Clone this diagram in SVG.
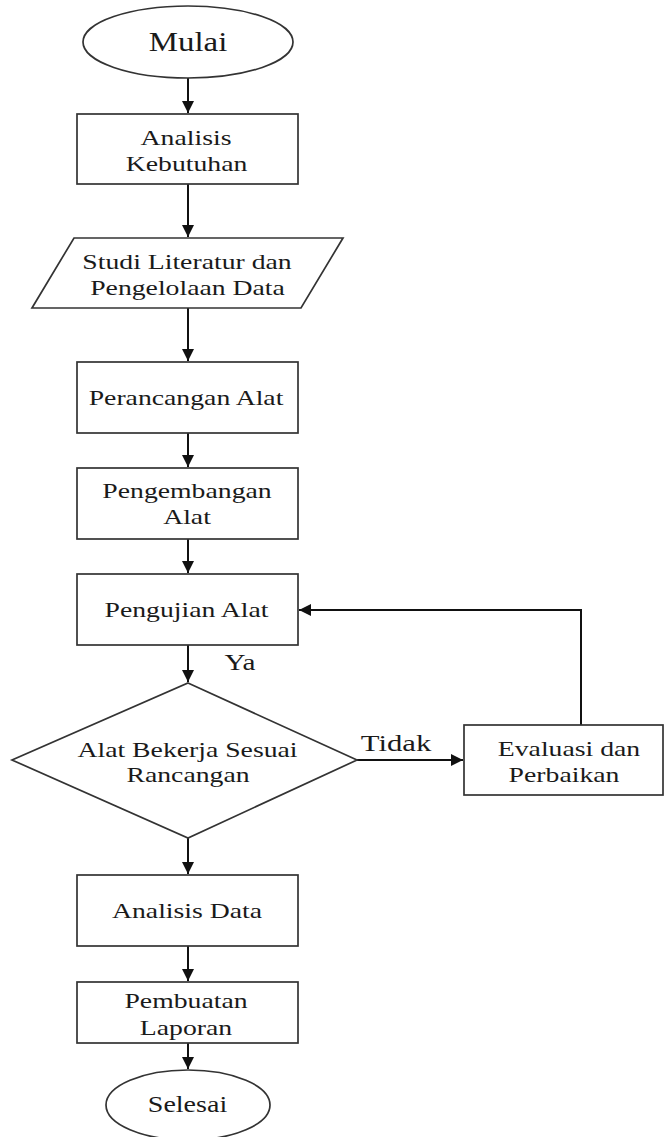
<svg xmlns="http://www.w3.org/2000/svg" width="664" height="1137" viewBox="0 0 664 1137">
<style>
.s{fill:#fff;stroke:#333;stroke-width:1.7}
.t{font-family:"Liberation Serif","Times New Roman",serif;font-size:22px;fill:#1a1a1a;text-anchor:middle}
.c{fill:none;stroke:#111;stroke-width:2}
</style>
<defs>
<marker id="a" markerUnits="userSpaceOnUse" markerWidth="13" markerHeight="12" refX="12" refY="6" orient="auto">
<path d="M0,0 L12,6 L0,12 z" fill="#111"/>
</marker>
</defs>
<rect width="664" height="1137" fill="#fff"/>
<g id="connectors">
<line class="c" x1="188" y1="78" x2="188" y2="113" marker-end="url(#a)"/>
<line class="c" x1="188" y1="184" x2="188" y2="237" marker-end="url(#a)"/>
<line class="c" x1="188" y1="308" x2="188" y2="361" marker-end="url(#a)"/>
<line class="c" x1="188" y1="433" x2="188" y2="467" marker-end="url(#a)"/>
<line class="c" x1="188" y1="539" x2="188" y2="573" marker-end="url(#a)"/>
<line class="c" x1="188" y1="645" x2="188" y2="682" marker-end="url(#a)"/>
<line class="c" x1="188" y1="838" x2="188" y2="874" marker-end="url(#a)"/>
<line class="c" x1="188" y1="946" x2="188" y2="981" marker-end="url(#a)"/>
<line class="c" x1="188" y1="1043" x2="188" y2="1069" marker-end="url(#a)"/>
<line class="c" x1="357" y1="760" x2="463" y2="760" marker-end="url(#a)"/>
<polyline class="c" points="581,725 581,610 299,610" marker-end="url(#a)"/>
<text class="t" transform="translate(240,670) scale(1.27,1)" style="font-size:23px">Ya</text>
<text class="t" transform="translate(396,751) scale(1.28,1)" style="font-size:24px">Tidak</text>
</g>
<g id="mulai">
<ellipse class="s" cx="188" cy="42" rx="105" ry="36"/>
<text class="t" transform="translate(188,51) scale(1.22,1)" style="font-size:27px">Mulai</text>
</g>
<g id="analisis-kebutuhan">
<rect class="s" x="77" y="114" width="221" height="70"/>
<text class="t" transform="translate(186,145) scale(1.26,1)">Analisis</text>
<text class="t" transform="translate(186.5,171) scale(1.26,1)">Kebutuhan</text>
</g>
<g id="studi-literatur">
<polygon class="s" points="74,238 343,238 301,308 32,308"/>
<text class="t" transform="translate(187,269) scale(1.26,1)">Studi Literatur dan</text>
<text class="t" transform="translate(187.5,295) scale(1.26,1)">Pengelolaan Data</text>
</g>
<g id="perancangan">
<rect class="s" x="77" y="362" width="221" height="71"/>
<text class="t" transform="translate(186,405) scale(1.26,1)">Perancangan Alat</text>
</g>
<g id="pengembangan">
<rect class="s" x="77" y="468" width="221" height="71"/>
<text class="t" transform="translate(187,498) scale(1.26,1)">Pengembangan</text>
<text class="t" transform="translate(187,524) scale(1.26,1)">Alat</text>
</g>
<g id="pengujian">
<rect class="s" x="77" y="574" width="221" height="71"/>
<text class="t" transform="translate(186.5,617) scale(1.26,1)">Pengujian Alat</text>
</g>
<g id="keputusan">
<polygon class="s" points="188,683 357,760 188,838 12,760"/>
<text class="t" transform="translate(187.5,757) scale(1.26,1)">Alat Bekerja Sesuai</text>
<text class="t" transform="translate(188,782) scale(1.26,1)">Rancangan</text>
</g>
<g id="evaluasi">
<rect class="s" x="464" y="725" width="199" height="70"/>
<text class="t" transform="translate(569,756) scale(1.26,1)">Evaluasi dan</text>
<text class="t" transform="translate(564,782) scale(1.26,1)">Perbaikan</text>
</g>
<g id="analisis-data">
<rect class="s" x="77" y="875" width="221" height="71"/>
<text class="t" transform="translate(187,918) scale(1.26,1)">Analisis Data</text>
</g>
<g id="pembuatan-laporan">
<rect class="s" x="77" y="982" width="221" height="61"/>
<text class="t" transform="translate(186,1008) scale(1.26,1)">Pembuatan</text>
<text class="t" transform="translate(186,1035) scale(1.26,1)">Laporan</text>
</g>
<g id="selesai">
<ellipse class="s" cx="188" cy="1105" rx="82" ry="35"/>
<text class="t" transform="translate(187.5,1112) scale(1.22,1)" style="font-size:23px">Selesai</text>
</g>
</svg>
